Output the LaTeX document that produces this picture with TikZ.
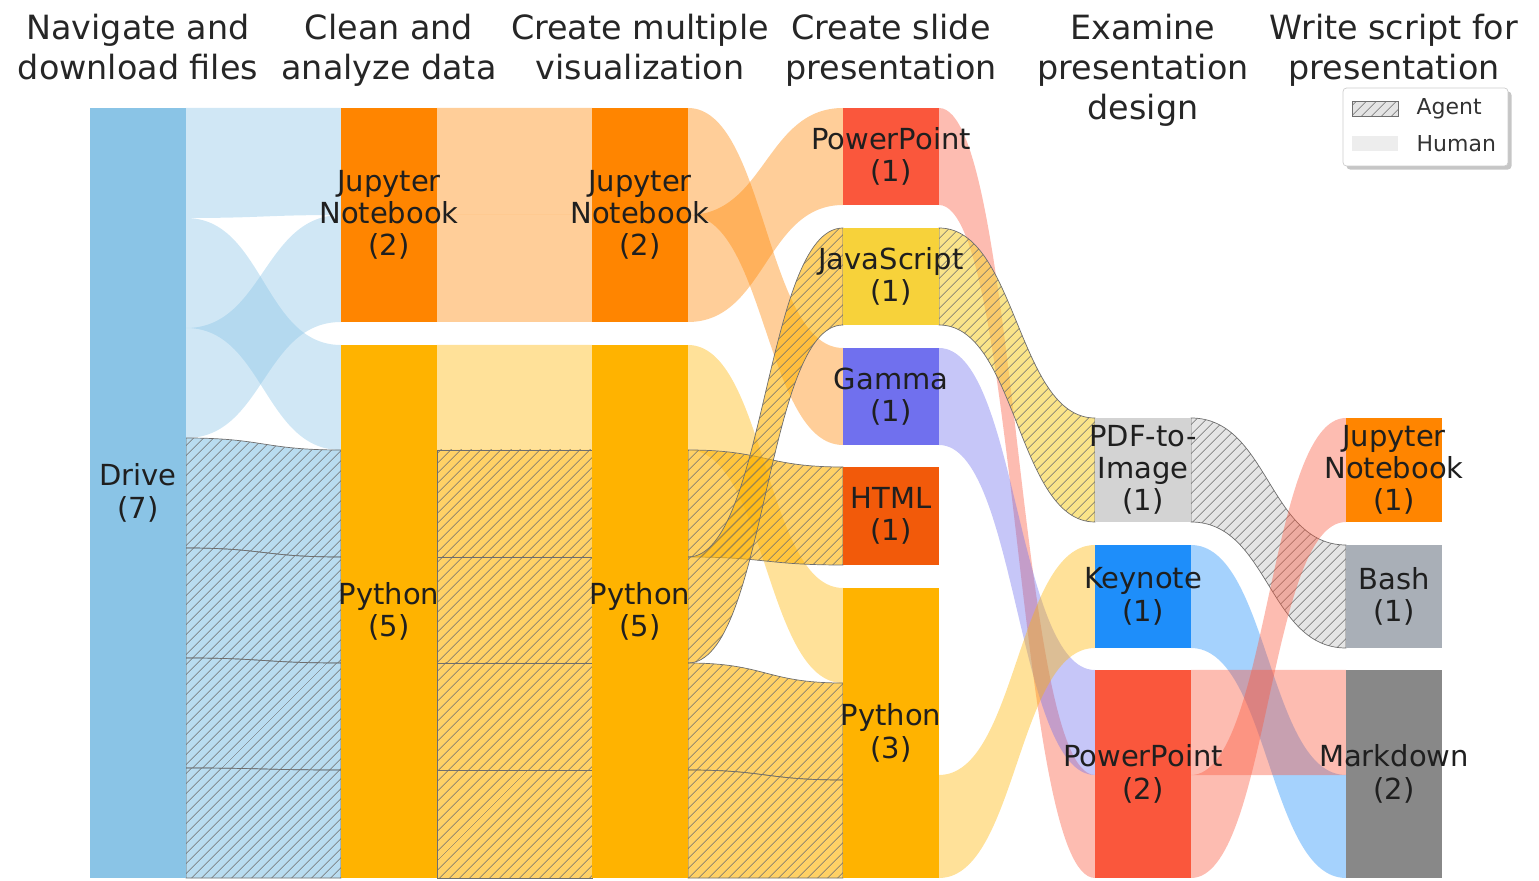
\documentclass[tikz,border=0pt]{standalone}
\usepackage{fontspec}
\setmainfont{DejaVu Sans}
\usetikzlibrary{positioning,patterns.meta,shadows,calc}

\definecolor{cdrive}{HTML}{8AC4E6}
\definecolor{cjup}{HTML}{FF8500}
\definecolor{cpy}{HTML}{FFB300}
\definecolor{cppt}{HTML}{FA573C}
\definecolor{cjs}{HTML}{F7D23A}
\definecolor{cgam}{HTML}{7070EE}
\definecolor{chtml}{HTML}{F25A0A}
\definecolor{cpdf}{HTML}{D3D3D3}
\definecolor{ckey}{HTML}{1E8EFA}
\definecolor{cbash}{HTML}{A9AFB7}
\definecolor{cmd}{HTML}{888888}
\definecolor{hatch}{HTML}{6E6E6E}

\pgfdeclarelayer{bg}
\pgfsetlayers{bg,main}

\tikzstyle{tool}=[inner sep=0pt, outer sep=0pt, minimum width=1.92cm]
\tikzstyle{toollbl}=[inner sep=0pt, align=center, text=black!88, font=\fontsize{16.5}{18.4}\selectfont]
\tikzstyle{head}=[anchor=north, inner sep=0pt, align=center, text=black!85, font=\fontsize{19}{22.7}\selectfont]
\tikzstyle{legtext}=[inner sep=0pt, anchor=west, text=black!80, font=\fontsize{12.5}{14}\selectfont]
\tikzstyle{keypatch}=[inner sep=0pt, minimum width=0.92cm, minimum height=0.3cm]
\tikzset{
  human/.style={fill=#1, fill opacity=0.4},
  agent/.style={fill=#1, fill opacity=0.6, draw=hatch, line width=0.4pt,
    postaction={pattern={Lines[angle=45, distance=4pt, line width=0.4pt]}, pattern color=hatch, fill opacity=1}}
}

% band from one tool to the next, y values in pixels
\newcommand{\flow}[7]{%
  \path[#7] let \p1=(#1.east), \p2=(#4.west) in
    (\x1,{-0.02cm*#2}) .. controls ({0.5*\x1+0.5*\x2},{-0.02cm*#2}) and ({0.5*\x1+0.5*\x2},{-0.02cm*#5}) .. (\x2,{-0.02cm*#5})
    -- (\x2,{-0.02cm*#6}) .. controls ({0.5*\x1+0.5*\x2},{-0.02cm*#6}) and ({0.5*\x1+0.5*\x2},{-0.02cm*#3}) .. (\x1,{-0.02cm*#3}) -- cycle;}

\begin{document}
\begin{tikzpicture}[x=0.02cm, y=-0.02cm]
  \useasboundingbox (0,0) rectangle (1539,881);

  % step titles
  \node[head] (nav) at (138,14) {Navigate and\\download files};
  \node[head] (clean) at (389,14) {Clean and\\analyze data};
  \node[head] (vis) at (640,14) {Create multiple\\visualization};
  \node[head] (slide) at (891,14) {Create slide\\presentation};
  \node[head] (exam) at (1143,14) {Examine\\presentation\\design};
  \node[head] (script) at (1394,14) {Write script for\\presentation};

  % tools
  \node[tool, fill=cdrive, minimum height=15.4cm, label={[toollbl]center:{Drive\\(7)}}] (drive) at (138,493) {};
  \node[tool, fill=cjup, minimum height=4.28cm, label={[toollbl]center:{Jupyter\\Notebook\\(2)}}] (jup1) at (389,215) {};
  \node[tool, fill=cpy, minimum height=10.66cm, label={[toollbl]center:{Python\\(5)}}] (py1) at (389,611.5) {};
  \node[tool, fill=cjup, minimum height=4.28cm, label={[toollbl]center:{Jupyter\\Notebook\\(2)}}] (jup2) at (640,215) {};
  \node[tool, fill=cpy, minimum height=10.66cm, label={[toollbl]center:{Python\\(5)}}] (py2) at (640,611.5) {};
  \node[tool, fill=cppt, minimum height=1.94cm, label={[toollbl]center:{PowerPoint\\(1)}}] (ppt1) at (891,156.5) {};
  \node[tool, fill=cjs, minimum height=1.94cm, label={[toollbl]center:{JavaScript\\(1)}}] (js) at (891,276.5) {};
  \node[tool, fill=cgam, minimum height=1.94cm, label={[toollbl]center:{Gamma\\(1)}}] (gamma) at (891,396.5) {};
  \node[tool, fill=chtml, minimum height=1.96cm, label={[toollbl]center:{HTML\\(1)}}] (html) at (891,516) {};
  \node[tool, fill=cpy, minimum height=5.8cm, label={[toollbl]center:{Python\\(3)}}] (py3) at (891,733) {};
  \node[tool, fill=cpdf, minimum height=2.08cm, label={[toollbl]center:{PDF-to-\\Image\\(1)}}] (pdf) at (1143,470) {};
  \node[tool, fill=ckey, minimum height=2.06cm, label={[toollbl]center:{Keynote\\(1)}}] (keynote) at (1143,596.5) {};
  \node[tool, fill=cppt, minimum height=4.16cm, label={[toollbl]center:{PowerPoint\\(2)}}] (ppt2) at (1143,774) {};
  \node[tool, fill=cjup, minimum height=2.08cm, label={[toollbl]center:{Jupyter\\Notebook\\(1)}}] (jup3) at (1394,470) {};
  \node[tool, fill=cbash, minimum height=2.06cm, label={[toollbl]center:{Bash\\(1)}}] (bash) at (1394,596.5) {};
  \node[tool, fill=cmd, minimum height=4.16cm, label={[toollbl]center:{Markdown\\(2)}}] (md) at (1394,774) {};

  % flows
  \begin{pgfonlayer}{bg}
    \flow{drive}{108}{218}{jup1}{108}{215}{human=cdrive}
    \flow{drive}{218}{328}{py1}{345}{450}{human=cdrive}
    \flow{drive}{328}{438}{jup1}{215}{322}{human=cdrive}
    \flow{drive}{438}{548}{py1}{450}{557}{agent=cdrive}
    \flow{drive}{548}{658}{py1}{557}{663}{agent=cdrive}
    \flow{drive}{658}{768}{py1}{663}{770}{agent=cdrive}
    \flow{drive}{768}{878}{py1}{770}{878}{agent=cdrive}

    \flow{jup1}{108}{215}{jup2}{108}{215}{human=cjup}
    \flow{jup1}{215}{322}{jup2}{215}{322}{human=cjup}
    \flow{py1}{345}{450}{py2}{345}{450}{human=cpy}
    \flow{py1}{450}{557}{py2}{450}{557}{agent=cpy}
    \flow{py1}{557}{663}{py2}{557}{663}{agent=cpy}
    \flow{py1}{663}{770}{py2}{663}{770}{agent=cpy}
    \flow{py1}{770}{878}{py2}{770}{878}{agent=cpy}

    \flow{jup2}{108}{215}{gamma}{348}{445}{human=cjup}
    \flow{jup2}{215}{322}{ppt1}{108}{205}{human=cjup}
    \flow{py2}{345}{450}{py3}{588}{683}{human=cpy}
    \flow{py2}{450}{557}{html}{467}{565}{agent=cpy}
    \flow{py2}{557}{663}{js}{228}{325}{agent=cpy}
    \flow{py2}{663}{770}{py3}{683}{780}{agent=cpy}
    \flow{py2}{770}{878}{py3}{780}{878}{agent=cpy}

    \flow{ppt1}{108}{205}{ppt2}{775}{878}{human=cppt}
    \flow{js}{228}{325}{pdf}{418}{522}{agent=cjs}
    \flow{gamma}{348}{445}{ppt2}{670}{775}{human=cgam}
    \flow{py3}{775}{878}{keynote}{545}{648}{human=cpy}

    \flow{pdf}{418}{522}{bash}{545}{648}{agent=cpdf}
    \flow{keynote}{545}{648}{md}{775}{878}{human=ckey}
    \flow{ppt2}{670}{775}{md}{670}{775}{human=cppt}
    \flow{ppt2}{775}{878}{jup3}{418}{522}{human=cppt}
  \end{pgfonlayer}

  % legend
  \node[draw=black!20, fill=white, rounded corners=2pt, minimum width=3.3cm, minimum height=1.56cm,
    drop shadow={shadow xshift=2pt, shadow yshift=-2pt, opacity=0.45}] (legend) at (1425.5,127) {};
  \node[keypatch, agent=cpdf] (agentkey) at (1375,109) {};
  \node[legtext, right=0.36cm of agentkey] (agentlbl) {Agent};
  \node[keypatch, fill=black!7] (humankey) at (1375,144) {};
  \node[legtext, right=0.36cm of humankey] (humanlbl) {Human};
\end{tikzpicture}
\end{document}
